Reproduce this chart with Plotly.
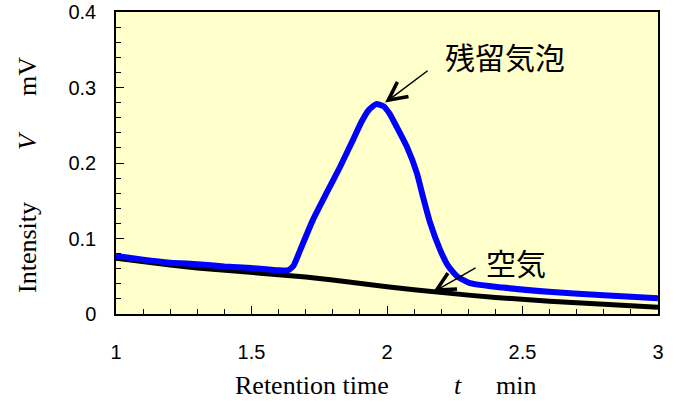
import plotly.graph_objects as go

# Retention time (min) and intensity (mV)
air_t = [1.00, 1.10, 1.20, 1.30, 1.40, 1.50, 1.60, 1.70, 1.80, 1.90, 2.00,
         2.10, 2.20, 2.30, 2.40, 2.50, 2.60, 2.70, 2.80, 2.90, 3.00]
air_v = [0.074, 0.069, 0.065, 0.061, 0.058, 0.056, 0.053, 0.049, 0.045, 0.040, 0.036,
         0.032, 0.028, 0.025, 0.022, 0.019, 0.017, 0.015, 0.013, 0.011, 0.009]

bubble_t = [1.00, 1.10, 1.20, 1.30, 1.40, 1.50, 1.60, 1.635, 1.655, 1.68,
            1.727, 1.778, 1.827, 1.875, 1.905, 1.932, 1.960, 1.988, 2.010, 2.037,
            2.074, 2.11, 2.133, 2.159, 2.196, 2.225, 2.258, 2.306, 2.428, 2.61,
            2.80, 3.00]
bubble_v = [0.077, 0.072, 0.068, 0.066, 0.063, 0.061, 0.058, 0.058, 0.064, 0.085,
            0.125, 0.161, 0.195, 0.231, 0.254, 0.270, 0.278, 0.275, 0.265, 0.247,
            0.221, 0.187, 0.155, 0.121, 0.085, 0.064, 0.050, 0.041, 0.035, 0.029,
            0.025, 0.021]

x_ticks = [1, 1.5, 2, 2.5, 3]
x_tick_text = ["1", "1.5", "2", "2.5", "3"]
y_ticks = [0, 0.1, 0.2, 0.3, 0.4]
y_tick_text = ["0", "0.1", "0.2", "0.3", "0.4"]

fig = go.Figure()
fig.add_trace(go.Scatter(x=air_t, y=air_v, mode="lines",
                         line=dict(color="black", width=5), name="空気"))
fig.add_trace(go.Scatter(x=bubble_t, y=bubble_v, mode="lines",
                         line=dict(color="#0000FF", width=6, shape="spline", smoothing=0.5),
                         name="残留気泡"))

sans = "Liberation Sans, Arial, sans-serif"
serif = "'Liberation Serif', 'Times New Roman', serif"
cjk = "'Noto Sans CJK JP', sans-serif"

L, R, T, B = 116, 23, 12, 94
W, H = 681, 408
PW, PH = W - L - R, H - T - B


def px(xp):
    return (xp - L) / PW


def py(yp):
    return (H - B - yp) / PH


fig.update_layout(
    width=W, height=H,
    margin=dict(l=L, r=R, t=T, b=B, autoexpand=False),
    paper_bgcolor="white",
    plot_bgcolor="#FFFFCC",
    showlegend=False,
    xaxis=dict(range=[1, 3], tickvals=x_ticks, ticktext=x_tick_text,
               ticks="inside", ticklen=8, tickwidth=1, tickcolor="black",
               minor=dict(dtick=0.1, tick0=1, ticks="inside", ticklen=5, tickcolor="black", showgrid=False),
               showline=True, linecolor="black", linewidth=1.5, mirror=True,
               showgrid=False, zeroline=False, automargin=False,
               tickfont=dict(family=sans, size=20, color="black"),
               ticklabelstandoff=19),
    yaxis=dict(range=[0, 0.4], tickvals=y_ticks, ticktext=y_tick_text,
               ticks="inside", ticklen=8, tickwidth=1, tickcolor="black",
               minor=dict(dtick=0.02, tick0=0, ticks="inside", ticklen=5, tickcolor="black", showgrid=False),
               showline=True, linecolor="black", linewidth=1.5, mirror=True,
               showgrid=False, zeroline=False, automargin=False,
               tickfont=dict(family=sans, size=20, color="black"),
               ticklabelstandoff=14),
)

ann = []
# axis titles (pieces positioned separately, as in the reference)
for txt, xp in [("Retention time", 312), ("<i>t</i>", 458), ("min", 516)]:
    ann.append(dict(text=txt, x=px(xp), y=py(386), xref="paper", yref="paper",
                    xanchor="center", yanchor="middle", showarrow=False,
                    font=dict(family=serif, size=26, color="black")))
for txt, yp in [("Intensity", 248), ("<i>V</i>", 141), ("mV", 77)]:
    ann.append(dict(text=txt, x=px(27), y=py(yp), xref="paper", yref="paper",
                    xanchor="center", yanchor="middle", showarrow=False, textangle=-90,
                    font=dict(family=serif, size=26, color="black")))
# curve labels
ann.append(dict(text="残留気泡", x=px(505), y=py(56), xref="paper", yref="paper",
                xanchor="center", yanchor="middle",
                showarrow=False, font=dict(family=cjk, size=30, color="black")))
ann.append(dict(text="空気", x=px(516), y=py(262), xref="paper", yref="paper",
                xanchor="center", yanchor="middle",
                showarrow=False, font=dict(family=cjk, size=30, color="black")))
# arrows
ann.append(dict(text="", x=1.993, y=0.280, ax=44, ay=-33, showarrow=True,
                arrowhead=5, arrowsize=2.4, arrowwidth=1.5, arrowcolor="black", standoff=0))
ann.append(dict(text="", x=2.17, y=0.029, ax=44, ay=-25, showarrow=True,
                arrowhead=5, arrowsize=2.4, arrowwidth=1.5, arrowcolor="black", standoff=0))
fig.update_layout(annotations=ann)

fig.write_html("out.html")
